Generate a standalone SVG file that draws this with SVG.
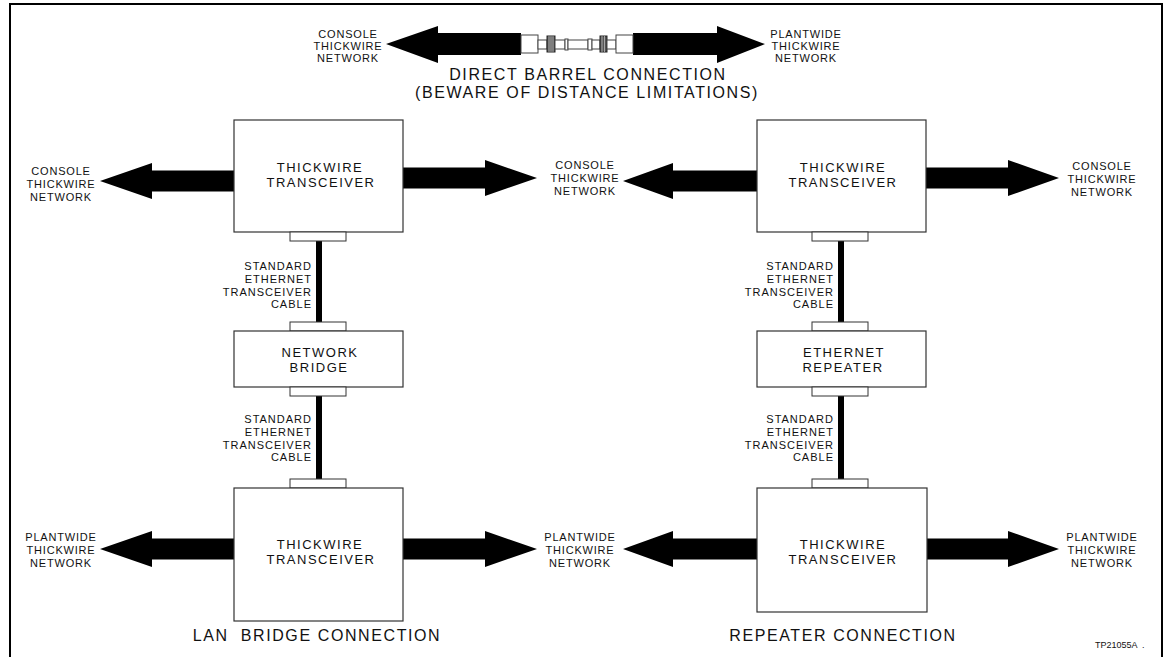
<svg xmlns="http://www.w3.org/2000/svg" width="1165" height="657" viewBox="0 0 1165 657">
<style>
text{font-family:"Liberation Sans",Arial,sans-serif;fill:#111}
.box{fill:#fff;stroke:#333;stroke-width:1.2}
.tab{fill:#fff;stroke:#333;stroke-width:1}
.arr{fill:#000}
.cab{fill:#000}
.lbl{font-size:11px;letter-spacing:0.8px;text-anchor:middle}
.cl{font-size:11px;letter-spacing:1px;text-anchor:end}
.bt{font-size:13px;letter-spacing:1.5px;text-anchor:middle}
.ttl{font-size:16px;letter-spacing:1.6px;text-anchor:middle}
.bar{fill:#fff;stroke:#444;stroke-width:1}
</style>
<rect width="1165" height="657" fill="#fff"/>
<path d="M10,657 V4 H1162 V657" fill="none" stroke="#000" stroke-width="2"/>

<g id="barrel">
<path class="arr" d="M386,44 L438,26 L438,33 L521,33 L521,55 L438,55 L438,63 Z"/>
<path class="arr" d="M765,44 L717,26 L717,33 L633,33 L633,55 L717,55 L717,63 Z"/>
<rect class="bar" x="521" y="35" width="17" height="18"/>
<rect class="bar" x="538" y="40" width="9" height="9"/>
<rect x="547" y="36" width="8" height="16" fill="#555" stroke="#222" stroke-width="1"/>
<path d="M549,36 V52 M551,36 V52 M553,36 V52" stroke="#ccc" stroke-width="0.7"/>
<rect class="bar" x="555" y="40" width="10" height="9"/>
<rect class="bar" x="565" y="39" width="3" height="11"/>
<rect class="bar" x="568" y="40" width="20" height="9"/>
<rect class="bar" x="588" y="39" width="4" height="11"/>
<rect class="bar" x="592" y="40" width="8" height="9"/>
<rect x="600" y="36" width="7" height="16" fill="#555" stroke="#222" stroke-width="1"/>
<path d="M602,36 V52 M604.5,36 V52" stroke="#ccc" stroke-width="0.7"/>
<rect class="bar" x="607" y="40" width="9" height="9"/>
<rect class="bar" x="616" y="35" width="17" height="18"/>
<text class="lbl" x="348" y="38">CONSOLE</text>
<text class="lbl" x="348" y="50">THICKWIRE</text>
<text class="lbl" x="348" y="62">NETWORK</text>
<text class="lbl" x="806" y="38">PLANTWIDE</text>
<text class="lbl" x="806" y="50">THICKWIRE</text>
<text class="lbl" x="806" y="62">NETWORK</text>
<text class="ttl" x="588" y="80">DIRECT BARREL CONNECTION</text>
<text class="ttl" x="587" y="98">(BEWARE OF DISTANCE LIMITATIONS)</text>
</g>

<g id="connectors">
<path class="arr" d="M100,181 L152,163 L152,170.5 L234,170.5 L234,191.5 L152,191.5 L152,199 Z"/>
<path class="arr" d="M537,178 L485,160 L485,167.5 L403,167.5 L403,188.5 L485,188.5 L485,196 Z"/>
<path class="arr" d="M623,181 L673,163 L673,170.5 L757,170.5 L757,191.5 L673,191.5 L673,199 Z"/>
<path class="arr" d="M1059,178 L1008,160 L1008,167.5 L926,167.5 L926,188.5 L1008,188.5 L1008,196 Z"/>
<path class="arr" d="M100,549 L152,531 L152,538.5 L234,538.5 L234,559.5 L152,559.5 L152,567 Z"/>
<path class="arr" d="M537,549 L485,531 L485,538.5 L403,538.5 L403,559.5 L485,559.5 L485,567 Z"/>
<path class="arr" d="M623,549 L673,531 L673,538.5 L757,538.5 L757,559.5 L673,559.5 L673,567 Z"/>
<path class="arr" d="M1059,549 L1008,531 L1008,538.5 L926,538.5 L926,559.5 L1008,559.5 L1008,567 Z"/>
<rect class="cab" x="316" y="241" width="6" height="82"/>
<rect class="cab" x="316" y="396" width="6" height="83"/>
<rect class="cab" x="838" y="241" width="6" height="82"/>
<rect class="cab" x="838" y="396" width="6" height="83"/>
<text class="cl" x="312" y="270">STANDARD</text>
<text class="cl" x="312" y="283">ETHERNET</text>
<text class="cl" x="312" y="296">TRANSCEIVER</text>
<text class="cl" x="312" y="308">CABLE</text>
<text class="cl" x="312" y="423">STANDARD</text>
<text class="cl" x="312" y="436">ETHERNET</text>
<text class="cl" x="312" y="449">TRANSCEIVER</text>
<text class="cl" x="312" y="461">CABLE</text>
<text class="cl" x="834" y="270">STANDARD</text>
<text class="cl" x="834" y="283">ETHERNET</text>
<text class="cl" x="834" y="296">TRANSCEIVER</text>
<text class="cl" x="834" y="308">CABLE</text>
<text class="cl" x="834" y="423">STANDARD</text>
<text class="cl" x="834" y="436">ETHERNET</text>
<text class="cl" x="834" y="449">TRANSCEIVER</text>
<text class="cl" x="834" y="461">CABLE</text>
</g>

<g id="net-labels">
<text class="lbl" x="61" y="175">CONSOLE</text>
<text class="lbl" x="61" y="188">THICKWIRE</text>
<text class="lbl" x="61" y="201">NETWORK</text>
<text class="lbl" x="585" y="169">CONSOLE</text>
<text class="lbl" x="585" y="182">THICKWIRE</text>
<text class="lbl" x="585" y="195">NETWORK</text>
<text class="lbl" x="1102" y="170">CONSOLE</text>
<text class="lbl" x="1102" y="183">THICKWIRE</text>
<text class="lbl" x="1102" y="196">NETWORK</text>
<text class="lbl" x="61" y="541">PLANTWIDE</text>
<text class="lbl" x="61" y="554">THICKWIRE</text>
<text class="lbl" x="61" y="567">NETWORK</text>
<text class="lbl" x="580" y="541">PLANTWIDE</text>
<text class="lbl" x="580" y="554">THICKWIRE</text>
<text class="lbl" x="580" y="567">NETWORK</text>
<text class="lbl" x="1102" y="541">PLANTWIDE</text>
<text class="lbl" x="1102" y="554">THICKWIRE</text>
<text class="lbl" x="1102" y="567">NETWORK</text>
</g>

<g id="lan-top-transceiver">
<rect class="box" x="234" y="120" width="169" height="112"/>
<rect class="tab" x="290" y="232" width="56" height="9"/>
<text class="bt" x="320" y="172">THICKWIRE</text>
<text class="bt" x="321" y="187">TRANSCEIVER</text>
</g>
<g id="network-bridge">
<rect class="tab" x="290" y="322" width="56" height="9"/>
<rect class="box" x="234" y="331" width="169" height="56"/>
<rect class="tab" x="290" y="387" width="56" height="9"/>
<text class="bt" x="320" y="357">NETWORK</text>
<text class="bt" x="319" y="372">BRIDGE</text>
</g>
<g id="lan-bottom-transceiver">
<rect class="tab" x="290" y="479" width="56" height="9"/>
<rect class="box" x="234" y="488" width="169" height="133"/>
<text class="bt" x="320" y="549">THICKWIRE</text>
<text class="bt" x="321" y="564">TRANSCEIVER</text>
</g>

<g id="rep-top-transceiver">
<rect class="box" x="757" y="120" width="169" height="112"/>
<rect class="tab" x="812" y="232" width="56" height="9"/>
<text class="bt" x="843" y="172">THICKWIRE</text>
<text class="bt" x="843" y="187">TRANSCEIVER</text>
</g>
<g id="ethernet-repeater">
<rect class="tab" x="812" y="322" width="56" height="9"/>
<rect class="box" x="757" y="331" width="169" height="56"/>
<rect class="tab" x="812" y="387" width="56" height="9"/>
<text class="bt" x="844" y="357">ETHERNET</text>
<text class="bt" x="843" y="372">REPEATER</text>
</g>
<g id="rep-bottom-transceiver">
<rect class="tab" x="812" y="479" width="56" height="9"/>
<rect class="box" x="757" y="488" width="170" height="124"/>
<text class="bt" x="843" y="549">THICKWIRE</text>
<text class="bt" x="843" y="564">TRANSCEIVER</text>
</g>

<g id="titles">
<text class="ttl" x="317" y="641" xml:space="preserve">LAN  BRIDGE CONNECTION</text>
<text class="ttl" x="843" y="641">REPEATER CONNECTION</text>
<text x="1095" y="648" font-size="9" xml:space="preserve">TP21055A  .</text>
</g>
</svg>
